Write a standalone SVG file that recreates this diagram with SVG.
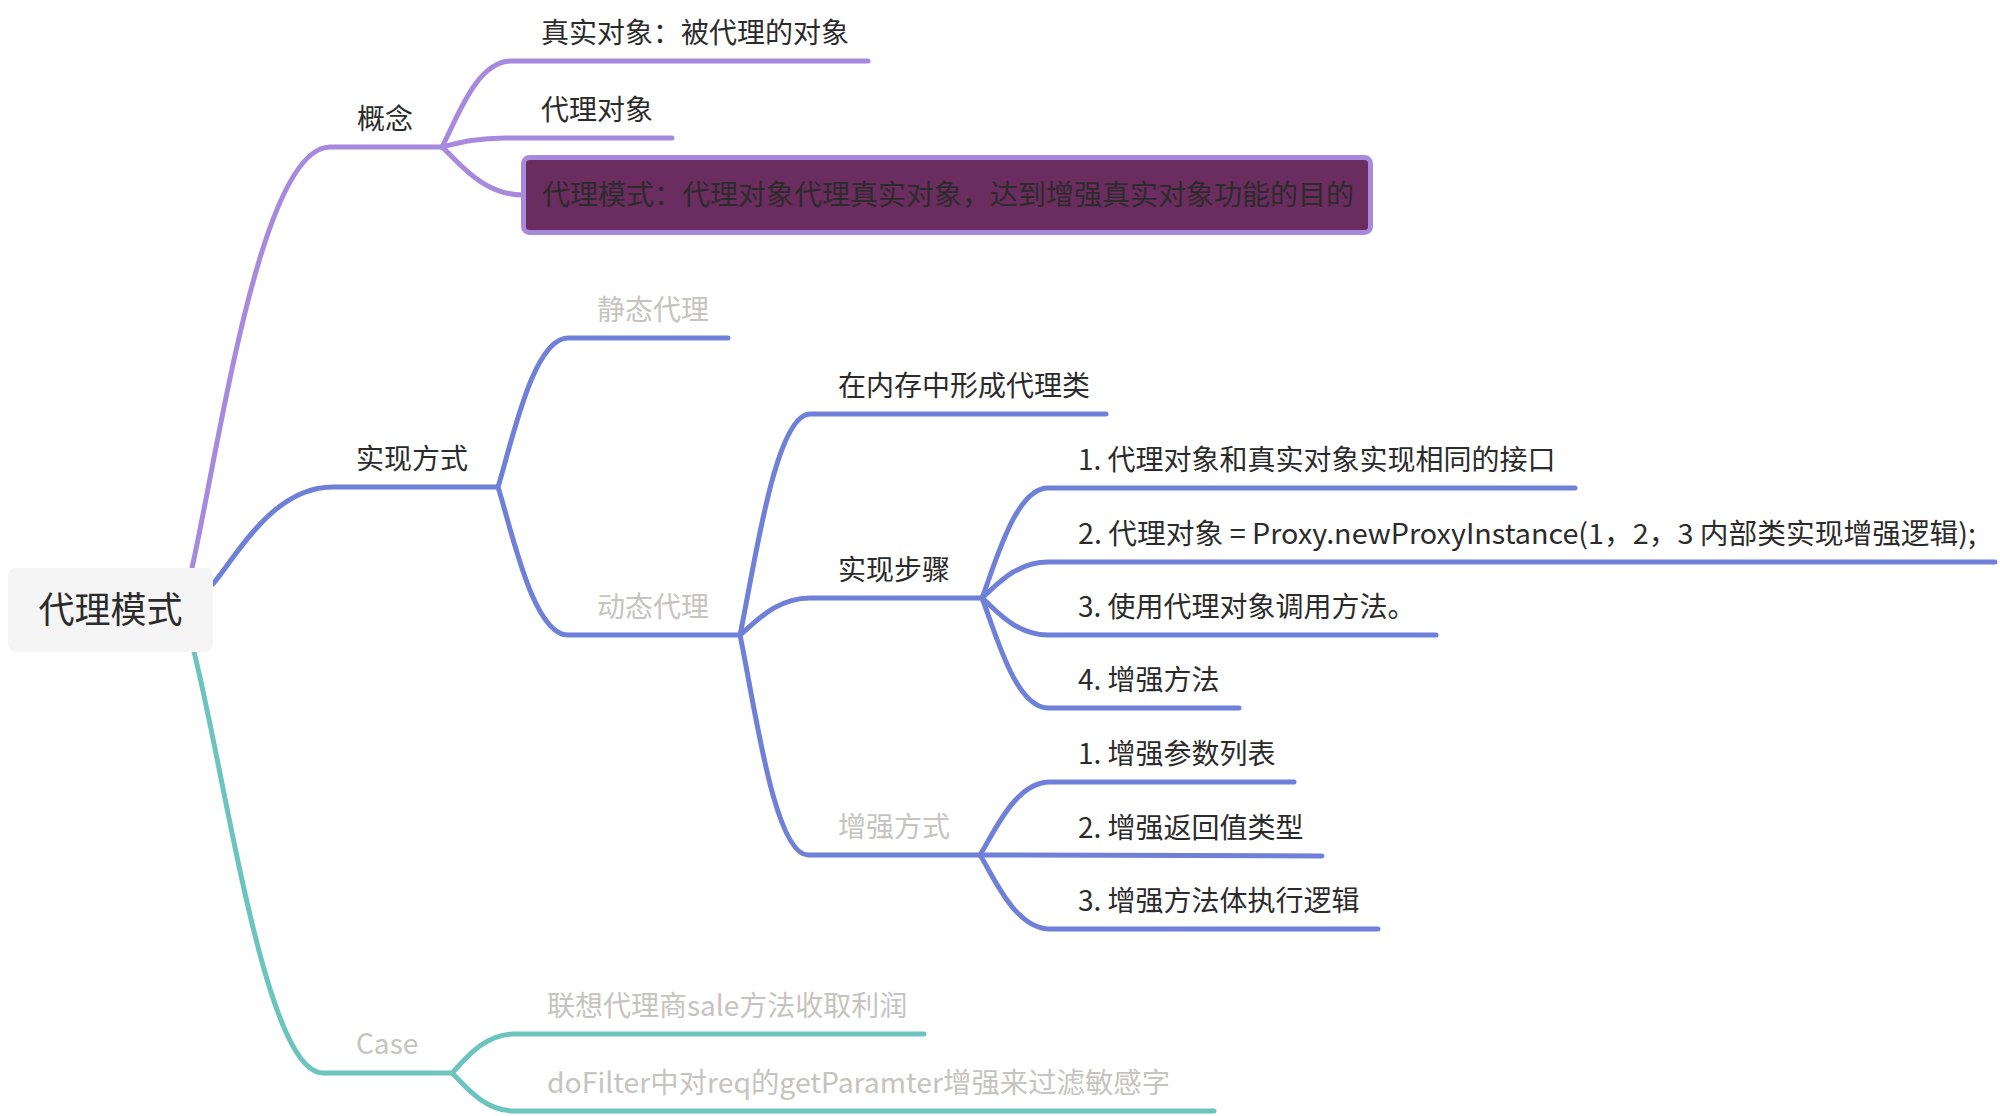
<svg xmlns="http://www.w3.org/2000/svg" width="2000" height="1116" viewBox="0 0 2000 1116">
<style>
text{font-family:"Microsoft YaHei","Noto Sans CJK SC","Noto Sans",sans-serif;font-size:28px;fill:#2b2b2b}
.g{fill:#c6c3c0}
.root{font-size:36px}
.ln{fill:none;stroke-width:5;stroke-linecap:round;stroke-linejoin:round}
.p{stroke:#a78ade}
.b{stroke:#6f80d9}
.t{stroke:#6cc4be}
</style>
<rect width="2000" height="1116" fill="#ffffff"/>
<g id="connectors">
<path class="ln p" d="M192 568 C220 442 261 147 330 147 L442 147"/>
<path class="ln b" d="M213 584 C237 555 273 487 333 487 L498 487"/>
<path class="ln t" d="M194 652 C226 778 265 1073 323 1073 L452 1073"/>
<path class="ln p" d="M442 147 C456 121 476 61 511 61 L868 61"/>
<path class="ln p" d="M442 147 C455 144 473 138 505 138 L672 138"/>
<path class="ln p" d="M442 147 C458 161 482 195 523 195"/>
<path class="ln b" d="M498 487 C512 442 533 338 568 338 L728 338"/>
<path class="ln b" d="M498 487 C512 531 533 635 568 635 L740 635"/>
<path class="ln b" d="M740 635 C754 569 775 414 810 414 L1106 414"/>
<path class="ln b" d="M740 635 C754 624 775 598 810 598 L982 598"/>
<path class="ln b" d="M740 635 C754 701 774 855 808 855 L980 855"/>
<path class="ln b" d="M982 598 C995 565 1015 488 1048 488 L1575 488"/>
<path class="ln b" d="M982 598 C995 587 1015 562 1048 562 L1995 562"/>
<path class="ln b" d="M982 598 C995 609 1015 635 1048 635 L1436 635"/>
<path class="ln b" d="M982 598 C995 631 1015 708 1048 708 L1239 708"/>
<path class="ln b" d="M980 855 C994 833 1015 782 1050 782 L1294 782"/>
<path class="ln b" d="M980 855 L1322 856"/>
<path class="ln b" d="M980 855 C994 877 1015 929 1050 929 L1378 929"/>
<path class="ln t" d="M452 1073 C464 1061 483 1034 514 1034 L924 1034"/>
<path class="ln t" d="M452 1073 C464 1084 483 1111 514 1111 L1214 1111"/>
</g>
<g id="root"><rect x="8" y="568" width="205" height="84" rx="8" fill="#f5f5f5"/><text class="root" x="110.5" y="623" text-anchor="middle">代理模式</text></g>
<g id="n-concept"><text x="357" y="129">概念</text></g>
<g id="n-real"><text x="541" y="43">真实对象：被代理的对象</text></g>
<g id="n-proxy"><text x="541" y="120">代理对象</text></g>
<g id="n-def"><rect x="523.5" y="157.5" width="847" height="75" rx="6" fill="#6b2c5f" stroke="#a78ade" stroke-width="5"/><text x="542" y="205">代理模式：代理对象代理真实对象，达到增强真实对象功能的目的</text></g>
<g id="n-impl"><text x="356" y="469">实现方式</text></g>
<g id="n-static"><text class="g" x="597" y="320">静态代理</text></g>
<g id="n-dynamic"><text class="g" x="597" y="617">动态代理</text></g>
<g id="n-memory"><text x="838" y="396">在内存中形成代理类</text></g>
<g id="n-steps"><text x="838" y="580">实现步骤</text></g>
<g id="n-step1"><text x="1078" y="470">1. 代理对象和真实对象实现相同的接口</text></g>
<g id="n-step2"><text x="1078" y="544" textLength="898" lengthAdjust="spacingAndGlyphs">2. 代理对象 = Proxy.newProxyInstance(1，2，3 内部类实现增强逻辑);</text></g>
<g id="n-step3"><text x="1078" y="617">3. 使用代理对象调用方法。</text></g>
<g id="n-step4"><text x="1078" y="690">4. 增强方法</text></g>
<g id="n-enh"><text class="g" x="838" y="837">增强方式</text></g>
<g id="n-enh1"><text x="1078" y="764">1. 增强参数列表</text></g>
<g id="n-enh2"><text x="1078" y="838">2. 增强返回值类型</text></g>
<g id="n-enh3"><text x="1078" y="911">3. 增强方法体执行逻辑</text></g>
<g id="n-case"><text class="g" x="356" y="1054">Case</text></g>
<g id="n-case1"><text class="g" x="547" y="1016">联想代理商sale方法收取利润</text></g>
<g id="n-case2"><text class="g" x="547" y="1093" textLength="623" lengthAdjust="spacingAndGlyphs">doFilter中对req的getParamter增强来过滤敏感字</text></g>
</svg>
